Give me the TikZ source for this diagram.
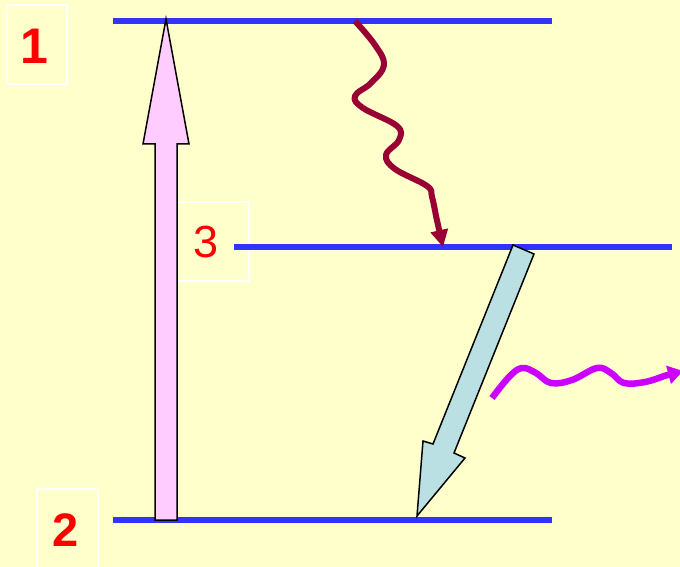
\documentclass[tikz,border=0pt]{standalone}
\usepackage{fontspec}
\setmainfont{Liberation Sans}
\usetikzlibrary{arrows.meta}
\definecolor{bgyellow}{HTML}{FFFFCC}
\definecolor{levelblue}{HTML}{3333FF}
\definecolor{pinkfill}{HTML}{FFCCFF}
\definecolor{cyanfill}{HTML}{BBE0E3}
\definecolor{wine}{HTML}{990033}
\definecolor{violet}{HTML}{CC00FF}
\tikzset{
  level/.style={draw=levelblue, line width=5.5pt},
  labelbox/.style={draw=white, line width=1.5pt, text=red},
  blockarrow/.style={draw=black, line width=1.5pt, line join=miter},
  wave/.style={line width=6pt, line cap=butt, line join=round}
}
\begin{document}
\begin{tikzpicture}[x=1pt,y=-1pt]
\fill[bgyellow] (0,0) rectangle (680,567);
\useasboundingbox (0,0) rectangle (680,567);
% label boxes
\draw[labelbox] (7,5) rectangle (67,84);
\node[text=red, font=\fontsize{50}{60}\selectfont\bfseries] (l1) at (34,46) {1};
\draw[labelbox] (173,202) rectangle (249,281);
\node[text=red, font=\fontsize{45}{54}\selectfont] (l3) at (206,242) {3};
\draw[labelbox] (37,489) rectangle (98,580);
\node[text=red, font=\fontsize{47}{56}\selectfont\bfseries] (l2) at (66,530) {2};
% energy levels
\coordinate (t1) at (113,21); \coordinate (t2) at (552,21);
\coordinate (m1) at (234,247); \coordinate (m2) at (672,247);
\coordinate (b1) at (113,520); \coordinate (b2) at (552,520);
\draw[level] (t1) -- (t2);
\draw[level] (m1) -- (m2);
\draw[level] (b1) -- (b2);
% pump arrow (pink)
\draw[blockarrow, fill=pinkfill] (155,520) -- (155,144) -- (143,144) -- (166,19) -- (189,144) -- (177,144) -- (177,520) -- cycle;
% emission arrow (cyan)
\draw[blockarrow, fill=cyanfill] (513,245) -- (433,444) -- (423,441) -- (417,516) -- (465,458) -- (454,453) -- (534,254) -- cycle;
% non-radiative wavy arrow
\draw[wave, draw=wine, -{Triangle[length=17pt,width=17pt]}]
  plot[smooth, tension=0.65] coordinates {(355,21) (375,45) (384,65) (371,83) (355,96) (363,108) (397,126) (399,140) (386,155) (395,169) (427,186) (432,197) (436,216)}
  -- (443,247);
% emitted photon wavy arrow
\draw[wave, draw=violet, line width=6.5pt, -{Triangle[length=15pt,width=18pt]}]
  plot[smooth, tension=0.65] coordinates {(492,398) (509,377) (522,368) (536,373) (551,383) (572,380) (597,368) (611,373) (624,383) (645,382) (664,376)}
  -- (683,371);
\end{tikzpicture}
\end{document}
